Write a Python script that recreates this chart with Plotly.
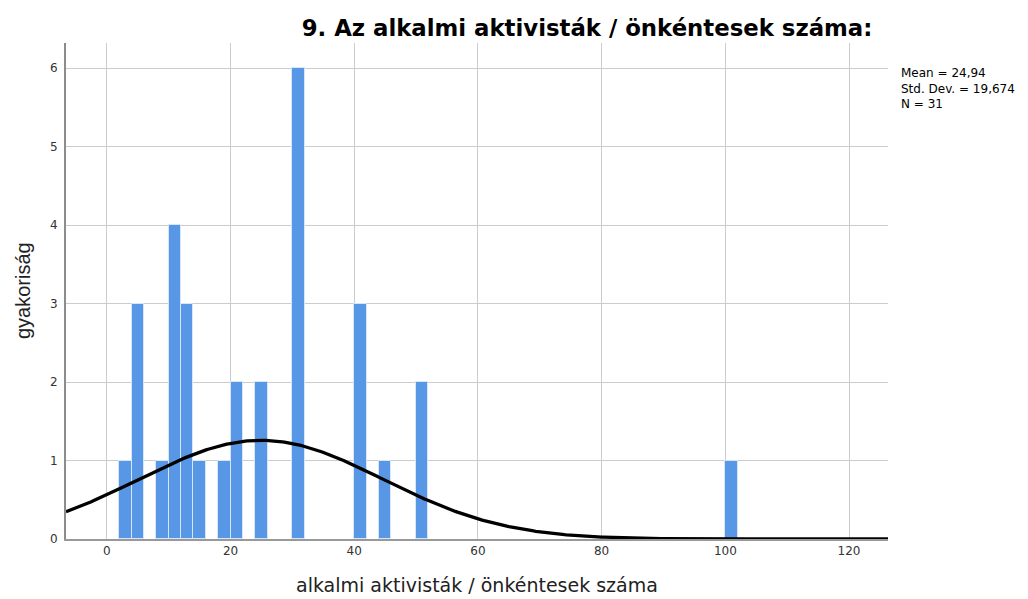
import numpy as np
import plotly.graph_objects as go

# Histogram bins (bin centers, width 2) and frequencies
bin_centers = [3, 5, 9, 11, 13, 15, 19, 21, 25, 31, 41, 45, 51, 101]
counts = [1, 3, 1, 4, 3, 1, 1, 2, 2, 6, 3, 1, 2, 1]
bin_width = 2
mean_val = 24.94
std_val = 19.674
n_val = 31

x_ticks = [0, 20, 40, 60, 80, 100, 120]
y_ticks = [0, 1, 2, 3, 4, 5, 6]

title_text = "9. Az alkalmi aktivisták / önkéntesek száma:"
x_title = "alkalmi aktivisták / önkéntesek száma"
y_title = "gyakoriság"
stats_lines = ["Mean = 24,94", "Std. Dev. = 19,674", "N = 31"]

x_range = [-6.6, 126.3]
y_range = [0, 6.32]

# Normal curve scaled to histogram
xc = np.linspace(x_range[0], x_range[1], 400)
yc = n_val * bin_width / (std_val * np.sqrt(2 * np.pi)) * np.exp(-0.5 * ((xc - mean_val) / std_val) ** 2)

# page body has an 8px margin, so the figure is sized to fit the window
W, H = 1020, 591
ML, MR, MT, MB = 58, 140, 35, 60
plot_h = H - MT - MB

fig = go.Figure()
fig.add_trace(go.Bar(
    x=bin_centers, y=counts, width=bin_width,
    marker=dict(color="#5797e5", line=dict(color="#d6e5f8", width=1)),
    showlegend=False, hoverinfo="x+y",
))
fig.add_trace(go.Scatter(
    x=xc, y=yc, mode="lines",
    line=dict(color="black", width=3.3),
    showlegend=False, hoverinfo="skip",
))

annotations = [
    dict(text="<br>".join(stats_lines), xref="paper", yref="paper",
         x=1.0, xshift=11, y=1 - (80.5 - MT) / plot_h,
         xanchor="left", yanchor="middle", align="left", showarrow=False,
         font=dict(size=12, color="black", family="DejaVu Sans, sans-serif")),
    dict(text=y_title, xref="paper", yref="paper", x=0, xshift=-(ML - 15), y=0.5,
         xanchor="center", yanchor="middle", textangle=-90, showarrow=False,
         font=dict(size=20, color="#222", family="Liberation Sans, Arial, sans-serif")),
    dict(text=x_title, xref="paper", yref="paper", x=0.5, y=0, yshift=-46,
         xanchor="center", yanchor="middle", showarrow=False, borderpad=0,
         font=dict(size=19, color="#222", family="DejaVu Sans, sans-serif")),
]

fig.update_layout(
    width=W, height=H,
    margin=dict(l=ML, r=MR, t=MT, b=MB, autoexpand=False),
    paper_bgcolor="white", plot_bgcolor="white",
    font=dict(family="DejaVu Sans, sans-serif", color="#222"),
    title=dict(text="<b>" + title_text + "</b>", xref="container", yref="container",
               x=579 / W, xanchor="center", y=1 - 20 / H, yanchor="middle",
               font=dict(size=22.8, color="black", family="DejaVu Sans, sans-serif")),
    bargap=0,
    annotations=annotations,
)
fig.update_xaxes(
    range=x_range, tickvals=x_ticks, showgrid=True, gridcolor="#cccccc", gridwidth=1,
    showline=True, linecolor="#999999", linewidth=1.5, zeroline=False,
    ticks="", tickfont=dict(size=12, color="#333"),
)
fig.update_yaxes(
    range=y_range, tickvals=y_ticks, showgrid=True, gridcolor="#cccccc", gridwidth=1,
    showline=True, linecolor="#8c8c8c", linewidth=2, zeroline=False,
    ticks="", tickfont=dict(size=12, color="#333"), ticklabelstandoff=4,
)

fig.write_html("out.html")
